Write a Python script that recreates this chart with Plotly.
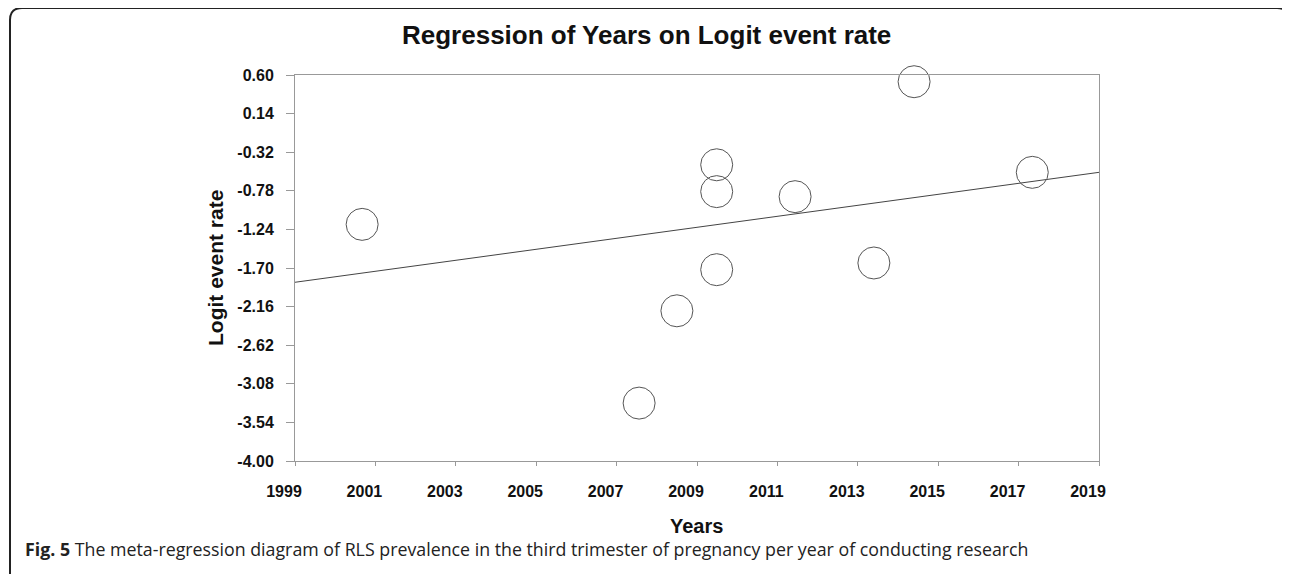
import plotly.graph_objects as go

# Data
study_years = [2000.67, 2007.56, 2008.50, 2009.49, 2009.49, 2009.49, 2011.44, 2013.40, 2014.40, 2017.34]
logit_event_rate = [-1.18, -3.31, -2.21, -0.47, -0.79, -1.72, -0.85, -1.64, 0.52, -0.56]
reg_years = [1999, 2019]
reg_logit = [-1.87, -0.56]
y_ticks = [0.60, 0.14, -0.32, -0.78, -1.24, -1.70, -2.16, -2.62, -3.08, -3.54, -4.00]
y_tick_labels = ["0.60", "0.14", "-0.32", "-0.78", "-1.24", "-1.70", "-2.16", "-2.62", "-3.08", "-3.54", "-4.00"]
x_ticks = [1999, 2001, 2003, 2005, 2007, 2009, 2011, 2013, 2015, 2017, 2019]
x_tick_labels = [str(v) for v in x_ticks]
x_min, x_max = 1999, 2019

OFF = 8                      # page body margin
W, H = 1290 - 2 * OFF, 582 - 2 * OFF
L, R, T, B = 295, 1099, 75, 461   # plot area in page pixels
EXTRA = 24                   # extra room left of the plot for the label axis
PL = L - EXTRA               # paper left edge in page pixels

def px(x):
    return (x - PL) / (R - PL)

def py(y):
    return (B - y) / (B - T)

FONT = "Liberation Sans, Arial"
px_per_year = (R - L) / (x_max - x_min)
shift = 11 / px_per_year      # x tick labels sit slightly left of their ticks
lab_r0 = x_min - EXTRA / px_per_year + shift
lab_r1 = x_max + shift

fig = go.Figure()
# invisible trace to activate the label axis (drawn first, underneath)
fig.add_trace(go.Scatter(x=[x_ticks[1]], y=[y_ticks[0]], xaxis="x2", mode="markers",
                         marker=dict(opacity=0), showlegend=False, hoverinfo="skip"))
fig.add_trace(go.Scatter(
    x=reg_years, y=reg_logit, mode="lines",
    line=dict(color="#444444", width=1), showlegend=False, hoverinfo="skip"))
fig.add_trace(go.Scatter(
    x=study_years, y=logit_event_rate, mode="markers",
    marker=dict(symbol="circle-open", size=32, color="#555555", line=dict(width=1, color="#555555")),
    showlegend=False, cliponaxis=False))

# Rounded outer frame
r = 12
x0, x1, y0, y1 = 10, 1289, 8, 640
path = (f"M {px(x0)},{py(y1)} L {px(x0)},{py(y0 + r)} "
        f"Q {px(x0)},{py(y0)} {px(x0 + r)},{py(y0)} "
        f"L {px(x1 - r)},{py(y0)} Q {px(x1)},{py(y0)} {px(x1)},{py(y0 + r)} "
        f"L {px(x1)},{py(y1)}")
fig.add_shape(type="path", path=path, xref="paper", yref="paper",
              line=dict(color="#222222", width=2))

fig.add_annotation(text="<b>Regression of Years on Logit event rate</b>",
                   x=px(646), y=py(35), xref="paper", yref="paper", showarrow=False,
                   xanchor="center", yanchor="middle",
                   font=dict(family=FONT, size=26, color="#111111"))
fig.add_annotation(text="<b>Logit event rate</b>", textangle=-90,
                   x=px(215), y=py(268), xref="paper", yref="paper", showarrow=False,
                   xanchor="center", yanchor="middle",
                   font=dict(family=FONT, size=21, color="#111111"))
fig.add_annotation(text="<b>Years</b>",
                   x=px(696), y=py(526), xref="paper", yref="paper", showarrow=False,
                   xanchor="center", yanchor="middle",
                   font=dict(family=FONT, size=20, color="#111111"))
fig.add_annotation(text="<b>Fig. 5</b> The meta-regression diagram of RLS prevalence in the third trimester of pregnancy per year of conducting research",
                   x=px(23), y=py(549), xref="paper", yref="paper", showarrow=False,
                   xanchor="left", yanchor="middle",
                   font=dict(family="Open Sans", size=17.8, color="#222222"))

axis_common = dict(showgrid=False, zeroline=False, ticks="outside",
                   tickfont=dict(family=FONT, size=16, color="#111111"))

fig.update_layout(
    xaxis=dict(range=[x_min, x_max], domain=[EXTRA / (R - PL), 1], tickvals=x_ticks,
               ticklen=4, showticklabels=False,
               showline=True, linecolor="#999999", linewidth=1, mirror=True,
               tickcolor="#999999", **axis_common),
    xaxis2=dict(range=[lab_r0, lab_r1], domain=[0, 1],
                anchor="y", side="bottom", tickvals=x_ticks,
                ticktext=[f"<b>{t}</b>" for t in x_tick_labels],
                ticklen=4, tickcolor="rgba(0,0,0,0)", ticklabelstandoff=12,
                showline=False, **axis_common),
    yaxis=dict(range=[-4.0, 0.6], tickvals=y_ticks,
               ticktext=[f"<b>{t}</b>" for t in y_tick_labels],
               ticklen=8, ticklabelstandoff=9,
               showline=True, linecolor="#999999", linewidth=1, mirror=True,
               tickcolor="#999999", **axis_common),
    width=W, height=H, autosize=False,
    margin=dict(l=PL - OFF, r=W - (R - OFF), t=T - OFF, b=H - (B - OFF)),
    paper_bgcolor="white", plot_bgcolor="rgba(0,0,0,0)")

fig.write_html("out.html")
